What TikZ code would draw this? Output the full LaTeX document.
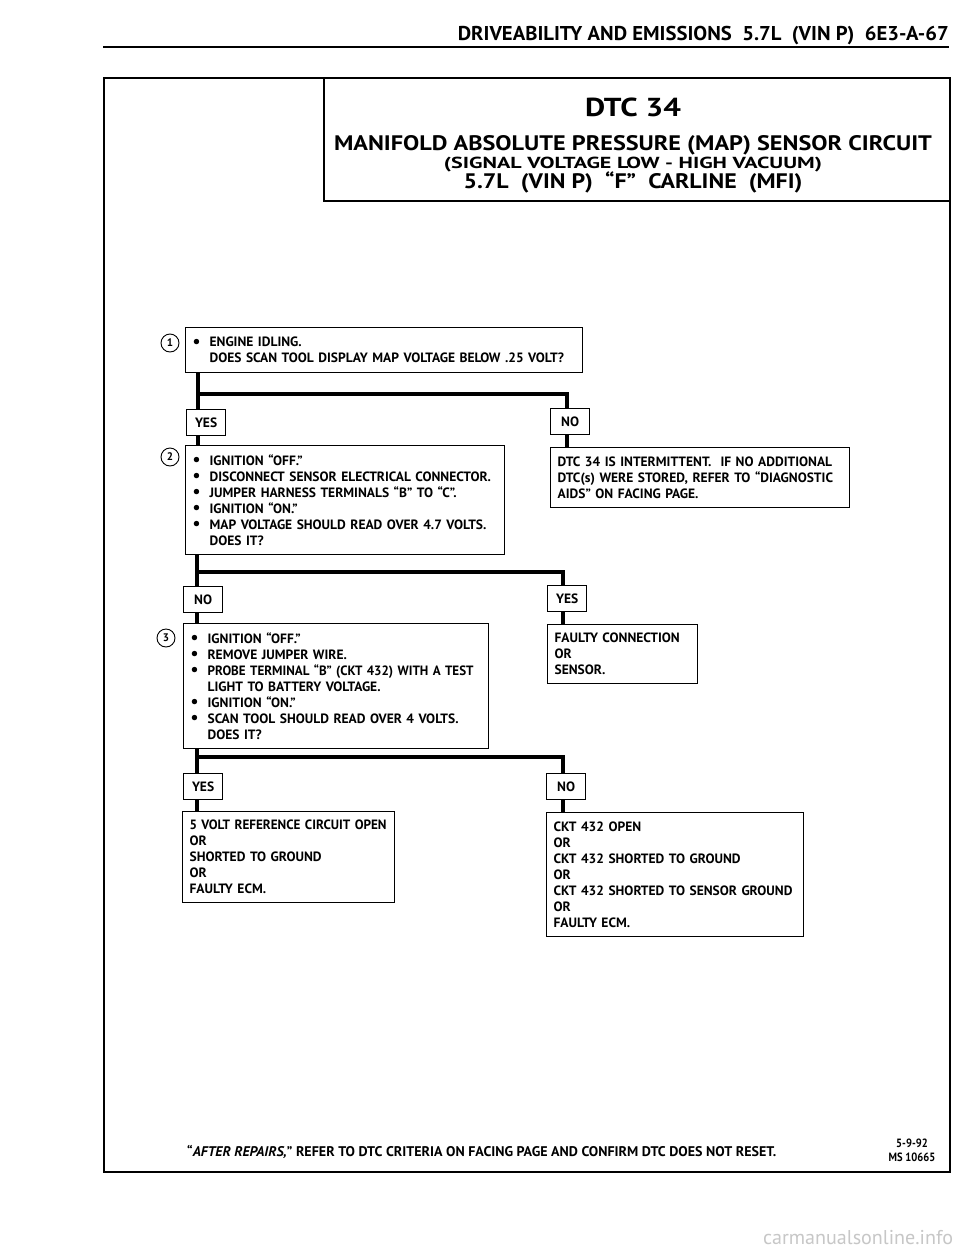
\documentclass[tikz,border=0pt]{standalone}
\usepackage{fontspec}
\setmainfont{PT Sans}
\newfontfamily\cf{PT Sans}[FakeStretch=0.88]
\newfontfamily\pf{PT Sans}
\newcommand\bul{\makebox[17pt][l]{\raisebox{-0.3pt}{\scalebox{1.3}{•}}}}
\newcommand\bl[1]{\bul\mbox{#1}}
\newcommand\il[1]{\hspace*{17pt}\mbox{#1}}
\newcommand\pl[1]{\mbox{#1}}
\newcommand\fitw[2]{\resizebox{#1}{\height}{#2}}
\begin{document}
\begin{tikzpicture}[x=1pt,y=-1pt,
  box/.style={draw, line width=1.2pt, inner xsep=7pt, inner ysep=0pt, align=left, anchor=north west,
              font=\pf\bfseries\fontsize{13.5}{16}\selectfont},
  lab/.style={draw, line width=1.2pt, minimum width=39pt, minimum height=26pt, inner sep=0pt,
              anchor=north west, font=\pf\bfseries\fontsize{13.5}{16}\selectfont},
  num/.style={circle, draw, line width=0.9pt, minimum size=18pt, inner sep=0pt,
              font=\pf\bfseries\fontsize{11}{13}\selectfont},
  trunk/.style={line width=4pt, line join=miter},
  ttl/.style={inner sep=0pt, anchor=base, font=\cf\bfseries},
]
\useasboundingbox (0,0) rectangle (960,1250);
\fill[white] (0,0) rectangle (960,1250);

% page header
\node[inner sep=0pt, anchor=base east, font=\cf\bfseries\fontsize{20}{22}\selectfont] (hdr) at (949,40)
  {\fitw{491pt}{DRIVEABILITY AND EMISSIONS\ \ 5.7L\ \ (VIN P)\ \ 6E3-A-67}};
\coordinate (rl) at (103,47);
\coordinate (rr) at (949,47);
\draw[line width=2.5pt] (rl) -- (rr);

% frame and title box
\node[draw, line width=2pt, minimum width=846pt, minimum height=1094pt, inner sep=0pt, anchor=north west] (frame) at (103,77) {};
\node[draw, line width=1.5pt, minimum width=626pt, minimum height=123pt, inner sep=0pt, anchor=north west] (title) at (323,77) {};
\node[ttl, font=\cf\bfseries\fontsize{26}{28}\selectfont] (tA) at (633,116) {\fitw{96pt}{DTC 34}};
\node[ttl, font=\cf\bfseries\fontsize{21}{24}\selectfont] (tB) at (633,150) {\fitw{598pt}{MANIFOLD ABSOLUTE PRESSURE (MAP) SENSOR CIRCUIT}};
\node[ttl, font=\cf\bfseries\fontsize{16}{20}\selectfont] (tC) at (633,168) {\fitw{378pt}{(SIGNAL VOLTAGE LOW - HIGH VACUUM)}};
\node[ttl, font=\cf\bfseries\fontsize{21}{24}\selectfont] (tD) at (633,188) {\fitw{339pt}{5.7L\ \ (VIN P)\ \ “F”\ \ CARLINE\ \ (MFI)}};

% step 1
\node[num] (c1) at (170,343) {1};
\node[box, text width=383pt, minimum height=45pt] (b1) at (185,327)
  {\bl{ENGINE IDLING.}\\\il{DOES SCAN TOOL DISPLAY MAP VOLTAGE BELOW .25 VOLT?}};
\node[lab] (yes1) at (186,409) {YES};
\node[lab] (no1) at (550,408) {NO};

% step 2
\node[num] (c2) at (170,457) {2};
\node[box, text width=305pt, minimum height=109pt] (b2) at (185,445)
  {\bl{IGNITION “OFF.”}\\\bl{DISCONNECT SENSOR ELECTRICAL CONNECTOR.}\\\bl{JUMPER HARNESS TERMINALS “B” TO “C”.}\\\bl{IGNITION “ON.”}\\\bl{MAP VOLTAGE SHOULD READ OVER 4.7 VOLTS.}\\\il{DOES IT?}};
\node[box, text width=285pt, minimum height=60pt] (dtc) at (550,447)
  {\pl{DTC 34 IS INTERMITTENT.\ \ IF NO ADDITIONAL}\\\pl{DTC(s) WERE STORED, REFER TO “DIAGNOSTIC}\\\pl{AIDS” ON FACING PAGE.}};
\node[lab] (no2) at (183,586) {NO};
\node[lab] (yes2) at (547,585) {YES};

% step 3
\node[num] (c3) at (166,638) {3};
\node[box, text width=291pt, minimum height=125pt] (b3) at (183,623)
  {\bl{IGNITION “OFF.”}\\\bl{REMOVE JUMPER WIRE.}\\\bul\fitw{266pt}{PROBE TERMINAL “B” (CKT 432) WITH A TEST}\\\il{LIGHT TO BATTERY VOLTAGE.}\\\bl{IGNITION “ON.”}\\\bl{SCAN TOOL SHOULD READ OVER 4 VOLTS.}\\\il{DOES IT?}};
\node[box, text width=136pt, minimum height=59pt] (fc) at (547,624)
  {\pl{FAULTY CONNECTION}\\OR\\SENSOR.};
\node[lab] (yes3) at (183,773) {YES};
\node[lab] (no3) at (546,773) {NO};

% results
\node[box, text width=198pt, minimum height=91pt] (r5) at (182,811)
  {\fitw{197pt}{5 VOLT REFERENCE CIRCUIT OPEN}\\OR\\\pl{SHORTED TO GROUND}\\OR\\\pl{FAULTY ECM.}};
\node[box, text width=243pt, minimum height=124pt] (rc) at (546,812)
  {\pl{CKT 432 OPEN}\\OR\\\pl{CKT 432 SHORTED TO GROUND}\\OR\\\pl{CKT 432 SHORTED TO SENSOR GROUND}\\OR\\\pl{FAULTY ECM.}};

% connectors
\coordinate (j1) at (198,394);
\coordinate (k1) at (567,394);
\draw[trunk] (b1.south -| j1) -- (yes1.north -| j1);
\draw[trunk] (j1) -- (k1) -- (no1.north -| k1);
\draw[trunk] (yes1.south -| j1) -- (b2.north -| j1);
\draw[trunk] (no1.south -| k1) -- (dtc.north -| k1);

\coordinate (j2) at (197,572);
\coordinate (k2) at (563,572);
\draw[trunk] (b2.south -| j2) -- (no2.north -| j2);
\draw[trunk] (j2) -- (k2) -- (yes2.north -| k2);
\draw[trunk] (no2.south -| j2) -- (b3.north -| j2);
\draw[trunk] (yes2.south -| k2) -- (fc.north -| k2);

\coordinate (j3) at (197,757);
\coordinate (k3) at (563,757);
\draw[trunk] (b3.south -| j3) -- (yes3.north -| j3);
\draw[trunk] (j3) -- (k3) -- (no3.north -| k3);
\draw[trunk] (yes3.south -| j3) -- (r5.north -| j3);
\draw[trunk] (no3.south -| k3) -- (rc.north -| k3);

% footer
\node[inner sep=0pt, anchor=base west, font=\cf\bfseries\fontsize{14}{16}\selectfont] (foot) at (187,1156)
  {\fitw{589pt}{“\textit{AFTER REPAIRS,}” REFER TO DTC CRITERIA ON FACING PAGE AND CONFIRM DTC DOES NOT RESET.}};
\node[inner sep=0pt, align=center, font=\cf\bfseries\fontsize{12}{14}\selectfont] (date) at (912,1150) {5-9-92\\MS 10665};

% watermark
\node[inner sep=0pt, text=black!22, font=\fontsize{20}{22}\selectfont] (wm) at (858,1238) {\fitw{190pt}{carmanualsonline.info}};
\end{tikzpicture}
\end{document}
